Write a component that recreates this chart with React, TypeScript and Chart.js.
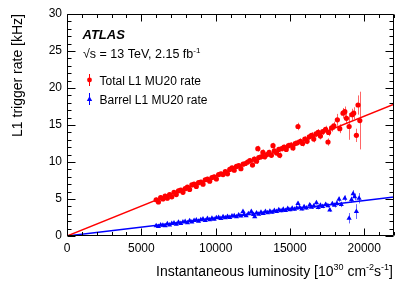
import React, { useEffect, useRef } from "react";
import { Chart, registerables } from "chart.js";

Chart.register(...registerables);

// ---------- axes ----------
const X_MIN = 0;
const X_MAX = 22000;
const Y_MIN = 0;
const Y_MAX = 30;
const xTickValues = [0, 5000, 10000, 15000, 20000];
const yTickValues = [0, 5, 10, 15, 20, 25, 30];
const X_MINOR = 1000;
const Y_MINOR = 1;

// ---------- Total L1 MU20 rate (red) ----------
const redLumi = [
  6000, 6150, 6300, 6450, 6600, 6750, 6900, 7050, 7200, 7350, 7500, 7650, 7800, 7950,
  8100, 8250, 8400, 8550, 8700, 8850, 9000, 9150, 9300, 9450, 9600, 9750, 9900, 10050,
  10200, 10350, 10500, 10650, 10800, 10950, 11100, 11250, 11400, 11550, 11700, 11850,
  12000, 12150, 12300, 12480, 12600, 12840, 12750, 12900, 13050, 13180, 13300, 13450,
  13600, 13750, 13860, 13950, 14100, 14310, 14250, 14450, 14600, 14750, 14900, 15050,
  15200, 15350, 15540, 15500, 15700, 15850, 16000, 16150, 16300, 16450, 16600, 16750,
  16900, 17050, 17200, 17400, 17560, 17600, 17800, 17950, 18190, 18350, 18570, 18690,
  18800, 18980, 19180, 19290, 19470, 19580, 19700,
];
const redRate = [
  4.9, 4.6, 5.2, 5.0, 5.4, 5.1, 5.6, 5.3, 5.9, 5.6, 6.1, 6.2, 5.9, 6.4,
  6.6, 6.3, 6.9, 7.0, 6.7, 7.2, 7.3, 7.0, 7.6, 7.7, 7.4, 7.9, 8.0, 7.7,
  8.3, 8.4, 8.3, 8.7, 8.4, 9.0, 9.2, 8.9, 9.4, 9.5, 9.1, 9.7,
  9.8, 10.0, 10.2, 9.6, 10.4, 11.8, 10.1, 10.6, 10.7, 11.3, 10.7, 11.0,
  11.3, 10.9, 12.2, 11.5, 11.2, 10.9, 11.7, 11.8, 12.0, 11.7, 12.2, 12.3,
  11.9, 12.5, 14.8, 12.6, 12.8, 12.5, 13.1, 12.8, 13.4, 13.6, 13.1, 13.8,
  14.0, 13.5, 14.1, 14.4, 12.7, 14.0, 14.6, 14.9, 15.7, 14.5, 16.6, 16.8,
  15.9, 14.8, 16.4, 16.6, 13.6, 17.7, 15.6,
];
const redErr = [
  0.3, 0.3, 0.3, 0.3, 0.3, 0.3, 0.3, 0.3, 0.3, 0.3, 0.3, 0.3, 0.3, 0.3,
  0.3, 0.3, 0.3, 0.3, 0.3, 0.3, 0.3, 0.3, 0.3, 0.3, 0.3, 0.3, 0.3, 0.3,
  0.3, 0.3, 0.3, 0.3, 0.3, 0.3, 0.3, 0.3, 0.3, 0.3, 0.3, 0.3,
  0.3, 0.35, 0.35, 0.35, 0.35, 0.4, 0.35, 0.35, 0.35, 0.4, 0.35, 0.35,
  0.35, 0.35, 0.4, 0.35, 0.35, 0.4, 0.35, 0.35, 0.35, 0.35, 0.4, 0.4,
  0.4, 0.4, 0.5, 0.4, 0.4, 0.4, 0.4, 0.4, 0.4, 0.45, 0.45, 0.45,
  0.45, 0.45, 0.45, 0.5, 0.5, 0.5, 0.5, 0.55, 0.8, 0.6, 0.7, 0.7,
  0.7, 1.8, 0.8, 0.8, 0.9, 1.3, 3.9,
];

// ---------- Barrel L1 MU20 rate (blue) ----------
const blueLumi = [
  6000, 6150, 6300, 6450, 6600, 6750, 6900, 7050, 7200, 7350, 7500, 7650, 7800, 7950,
  8100, 8250, 8400, 8550, 8700, 8850, 9000, 9150, 9300, 9450, 9600, 9750, 9900, 10050,
  10200, 10350, 10500, 10650, 10800, 10950, 11100, 11250, 11400, 11550, 11700, 11840,
  11900, 12050, 12200, 12400, 12630, 12550, 12750, 12900, 13050, 13200, 13350, 13500,
  13650, 13800, 13950, 14100, 14250, 14400, 14550, 14700, 14850, 15000, 15150, 15300,
  15540, 15450, 15650, 15800, 15950, 16100, 16330, 16450, 16600, 16780, 16900, 17050,
  17200, 17400, 17550, 17680, 17850, 18000, 18150, 18300, 18450, 18690, 18980, 19140,
  19250, 19350, 19470, 19650,
];
const blueRate = [
  1.4, 1.3, 1.5, 1.45, 1.4, 1.65, 1.5, 1.7, 1.75, 1.6, 1.85, 1.7, 1.9, 1.95,
  1.8, 2.05, 1.9, 2.1, 2.15, 2.0, 2.2, 2.3, 2.1, 2.35, 2.2, 2.4, 2.25, 2.45,
  2.5, 2.35, 2.6, 2.45, 2.65, 2.5, 2.7, 2.75, 2.6, 2.85, 2.7, 3.3,
  2.9, 2.75, 3.0, 3.3, 2.6, 2.9, 3.1, 2.95, 3.2, 3.05, 3.3, 3.15,
  3.35, 3.2, 3.45, 3.3, 3.55, 3.4, 3.6, 3.45, 3.7, 3.55, 3.75, 3.6,
  4.4, 3.8, 3.85, 3.65, 3.95, 3.8, 4.2, 3.9, 4.05, 4.5, 3.85, 4.15,
  4.0, 4.25, 4.1, 3.5, 4.35, 4.15, 4.4, 4.96, 4.25, 5.1, 2.4, 4.9,
  5.7, 5.3, 3.3, 5.1,
];
const blueErr = [
  0.15, 0.15, 0.15, 0.15, 0.15, 0.15, 0.15, 0.15, 0.15, 0.15, 0.15, 0.15, 0.15, 0.15,
  0.15, 0.15, 0.15, 0.15, 0.15, 0.15, 0.15, 0.15, 0.15, 0.15, 0.15, 0.15, 0.15, 0.15,
  0.15, 0.15, 0.15, 0.15, 0.15, 0.15, 0.17, 0.17, 0.17, 0.17, 0.17, 0.17,
  0.17, 0.17, 0.17, 0.17, 0.17, 0.17, 0.17, 0.17, 0.17, 0.17, 0.17, 0.17,
  0.2, 0.2, 0.2, 0.2, 0.2, 0.2, 0.2, 0.2, 0.2, 0.2, 0.2, 0.2,
  0.25, 0.2, 0.2, 0.2, 0.25, 0.25, 0.25, 0.25, 0.25, 0.25, 0.25, 0.25,
  0.25, 0.25, 0.25, 0.25, 0.3, 0.3, 0.3, 0.35, 0.35, 0.4, 0.7, 0.4,
  0.5, 0.45, 1.0, 0.7,
];

// ---------- linear fits through origin ----------
const fitLumi = [0, 22000];
const redFit = [0, 17.8];
const blueFit = [0, 5.28];

const RED = "#ff0000";
const BLUE = "#0000ff";
const FONT = '"Liberation Sans", Arial, Helvetica, sans-serif';

type Part = { t: string; sup?: boolean };

function drawRich(ctx: CanvasRenderingContext2D, parts: Part[], x: number, y: number, size: number, align: "left" | "right") {
  const supSize = Math.round(size * 0.62);
  const widths = parts.map((p) => {
    ctx.font = `${p.sup ? supSize : size}px ${FONT}`;
    return ctx.measureText(p.t).width;
  });
  const total = widths.reduce((a, b) => a + b, 0);
  let cx = align === "right" ? x - total : x;
  ctx.textAlign = "left";
  ctx.textBaseline = "alphabetic";
  parts.forEach((p, i) => {
    ctx.font = `${p.sup ? supSize : size}px ${FONT}`;
    ctx.fillText(p.t, cx, p.sup ? y - size * 0.42 : y);
    cx += widths[i];
  });
}

const errorBarPlugin = {
  id: "errorBars",
  beforeDatasetsDraw(chart: any) {
    const ctx = chart.ctx as CanvasRenderingContext2D;
    const yScale = chart.scales.y;
    const area = chart.chartArea;
    ctx.save();
    ctx.beginPath();
    ctx.rect(area.left, area.top, area.right - area.left, area.bottom - area.top);
    ctx.clip();
    chart.data.datasets.forEach((ds: any, i: number) => {
      if (!ds.errors) return;
      const meta = chart.getDatasetMeta(i);
      ctx.strokeStyle = ds.errColor;
      ctx.lineWidth = 1;
      meta.data.forEach((pt: any, j: number) => {
        const v = ds.data[j].y;
        const e = ds.errors[j];
        const y1 = yScale.getPixelForValue(v + e);
        const y2 = yScale.getPixelForValue(v - e);
        const px = Math.round(pt.x) + 0.5;
        ctx.beginPath();
        ctx.moveTo(px, y1);
        ctx.lineTo(px, y2);
        ctx.stroke();
      });
    });
    ctx.restore();
  },
};

const framePlugin = {
  id: "frameTicks",
  afterDraw(chart: any) {
    const ctx = chart.ctx as CanvasRenderingContext2D;
    const { left, right, top, bottom } = chart.chartArea;
    const xs = chart.scales.x;
    const ys = chart.scales.y;
    ctx.save();
    ctx.strokeStyle = "#000";
    ctx.lineWidth = 1;
    const L = Math.round(left) + 0.5;
    const R = Math.round(right) - 0.5;
    const T = Math.round(top) + 0.5;
    const B = Math.round(bottom) - 0.5;
    ctx.beginPath();
    ctx.rect(L, T, R - L, B - T);
    ctx.stroke();
    ctx.beginPath();
    for (let v = X_MIN; v <= X_MAX; v += X_MINOR) {
      const px = Math.round(xs.getPixelForValue(v)) + 0.5;
      const len = xTickValues.includes(v) ? 7 : 3.5;
      ctx.moveTo(px, B);
      ctx.lineTo(px, B - len);
      ctx.moveTo(px, T);
      ctx.lineTo(px, T + len);
    }
    for (let v = Y_MIN; v <= Y_MAX; v += Y_MINOR) {
      const py = Math.round(ys.getPixelForValue(v)) + 0.5;
      const len = yTickValues.includes(v) ? 8 : 4;
      ctx.moveTo(L, py);
      ctx.lineTo(L + len, py);
      ctx.moveTo(R, py);
      ctx.lineTo(R - len, py);
    }
    ctx.stroke();

    // axis titles
    ctx.fillStyle = "#000";
    drawRich(
      ctx,
      [
        { t: "Instantaneous luminosity [10" },
        { t: "30", sup: true },
        { t: " cm" },
        { t: "-2", sup: true },
        { t: "s" },
        { t: "-1", sup: true },
        { t: "]" },
      ],
      393,
      276,
      14,
      "right"
    );
    ctx.save();
    ctx.translate(22, 14);
    ctx.rotate(-Math.PI / 2);
    ctx.font = `14px ${FONT}`;
    ctx.textAlign = "right";
    ctx.textBaseline = "alphabetic";
    ctx.fillText("L1 trigger rate [kHz]", 0, 0);
    ctx.restore();

    // labels inside plot
    ctx.font = `italic bold 13px ${FONT}`;
    ctx.textAlign = "left";
    ctx.textBaseline = "alphabetic";
    ctx.fillText("ATLAS", 82.5, 38.5);
    drawRich(ctx, [{ t: "\u221As = 13 TeV, 2.15 fb" }, { t: "-1", sup: true }], 83, 58, 12.5, "left");

    // legend
    const legend = [
      { y: 80, color: RED, text: "Total L1 MU20 rate", shape: "circle" },
      { y: 99, color: BLUE, text: "Barrel L1 MU20 rate", shape: "triangle" },
    ];
    legend.forEach((it) => {
      ctx.strokeStyle = it.color;
      ctx.fillStyle = it.color;
      ctx.lineWidth = 1;
      ctx.beginPath();
      ctx.moveTo(89.5, it.y - 6);
      ctx.lineTo(89.5, it.y + 6);
      ctx.stroke();
      ctx.beginPath();
      if (it.shape === "circle") {
        ctx.arc(89.5, it.y, 2.4, 0, Math.PI * 2);
      } else {
        ctx.moveTo(89.5, it.y - 2.8);
        ctx.lineTo(92.2, it.y + 1.9);
        ctx.lineTo(86.8, it.y + 1.9);
        ctx.closePath();
      }
      ctx.fill();
      ctx.fillStyle = "#000";
      ctx.font = `12px ${FONT}`;
      ctx.fillText(it.text, 99.5, it.y + 4.5);
    });
    ctx.restore();
  },
};

export default function App() {
  const canvasRef = useRef<HTMLCanvasElement | null>(null);

  useEffect(() => {
    document.body.style.margin = "0";
    const canvas = canvasRef.current;
    if (!canvas) return;

    const redPts = redLumi.map((x, i) => ({ x, y: redRate[i] }));
    const bluePts = blueLumi.map((x, i) => ({ x, y: blueRate[i] }));
    const redLine = fitLumi.map((x, i) => ({ x, y: redFit[i] }));
    const blueLine = fitLumi.map((x, i) => ({ x, y: blueFit[i] }));

    const chart = new Chart(canvas, {
      type: "scatter",
      data: {
        datasets: [
          {
            label: "red fit",
            type: "line",
            data: redLine,
            borderColor: RED,
            borderWidth: 1.5,
            pointRadius: 0,
            showLine: true,
            order: -1,
          } as any,
          {
            label: "blue fit",
            type: "line",
            data: blueLine,
            borderColor: BLUE,
            borderWidth: 1.5,
            pointRadius: 0,
            showLine: true,
            order: -1,
          } as any,
          {
            label: "Total L1 MU20 rate",
            data: redPts,
            errors: redErr,
            errColor: "rgba(255,0,0,0.6)",
            pointStyle: "circle",
            pointRadius: 2.6,
            backgroundColor: RED,
            borderColor: RED,
            borderWidth: 0,
          } as any,
          {
            label: "Barrel L1 MU20 rate",
            data: bluePts,
            errors: blueErr,
            errColor: "rgba(0,0,255,0.6)",
            pointStyle: "triangle",
            pointRadius: 3,
            backgroundColor: BLUE,
            borderColor: BLUE,
            borderWidth: 0,
          } as any,
        ],
      },
      options: {
        responsive: false,
        animation: false,
        events: [],
        layout: { padding: { top: 14, right: 21, left: 0, bottom: 0 } },
        plugins: {
          legend: { display: false },
          tooltip: { enabled: false },
          title: { display: false },
        },
        scales: {
          x: {
            type: "linear",
            min: X_MIN,
            max: X_MAX,
            grid: { display: false, drawTicks: false },
            border: { display: false },
            ticks: {
              autoSkip: false,
              maxRotation: 0,
              padding: 5,
              color: "#000",
              font: { size: 12, family: FONT },
              callback: (v: any) => String(v),
            },
            afterBuildTicks: (scale: any) => {
              scale.ticks = xTickValues.map((value) => ({ value }));
            },
            afterFit: (scale: any) => {
              scale.height = 46;
            },
          },
          y: {
            type: "linear",
            min: Y_MIN,
            max: Y_MAX,
            grid: { display: false, drawTicks: false },
            border: { display: false },
            ticks: {
              autoSkip: false,
              padding: 5,
              color: "#000",
              font: { size: 12, family: FONT },
              callback: (v: any) => String(v),
            },
            afterBuildTicks: (scale: any) => {
              scale.ticks = yTickValues.map((value) => ({ value }));
            },
            afterFit: (scale: any) => {
              scale.width = 67;
            },
          },
        },
      },
      plugins: [errorBarPlugin, framePlugin],
    });

    return () => {
      chart.destroy();
    };
  }, []);

  return (
    <div style={{ width: 415, height: 282, background: "#fff" }}>
      <canvas ref={canvasRef} width={415} height={282} style={{ width: 415, height: 282, display: "block" }} />
    </div>
  );
}
